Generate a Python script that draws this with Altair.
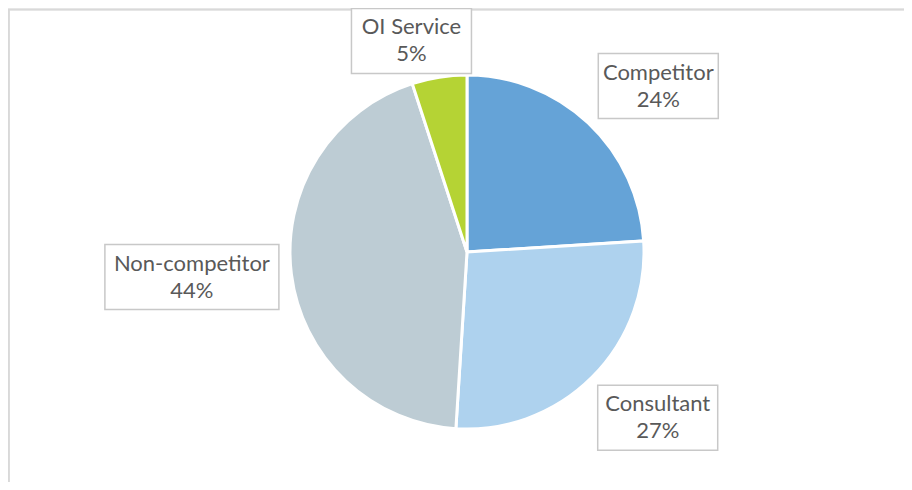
import altair as alt
import pandas as pd

# ---- data ----
categories = ["Competitor", "Consultant", "Non-competitor", "OI Service"]
shares = [24, 27, 44, 5]
colors = ["#65A3D7", "#AED2EE", "#BDCCD4", "#B5D334"]

# ---- layout / style ----
W, H = 896, 474
CX, CY = 459, 244
R = 177
LABEL_R = 240
nudge_x = {"Competitor": 27, "Consultant": 21, "Non-competitor": -37, "OI Service": -18}
nudge_y = {"Competitor": 9, "Consultant": -4, "Non-competitor": -5, "OI Service": 26}
FONT = "Lato"
FONT_SIZE = 22
LINE_H = 27
TEXT_COLOR = "#595959"
BOX_H = 65


def lookup_expr(d):
    expr = "0"
    for k, v in d.items():
        expr = f"datum.category == '{k}' ? {v} : ({expr})"
    return expr


df = pd.DataFrame({"category": categories, "share": shares, "order": list(range(len(categories)))})

base = alt.Chart(df)

pie = base.mark_arc(outerRadius=R, stroke="white", strokeWidth=3).encode(
    theta=alt.Theta("share:Q", stack=True),
    order=alt.Order("order:Q"),
    color=alt.Color("category:N", scale=alt.Scale(domain=categories, range=colors), legend=None),
    x=alt.value(CX),
    y=alt.value(CY),
)

labels_base = base.transform_joinaggregate(
    total="sum(share)"
).transform_window(
    cum="sum(share)", sort=[alt.SortField("order")], frame=[None, 0]
).transform_calculate(
    mid="(datum.cum - datum.share / 2) / datum.total * 2 * PI"
).transform_calculate(
    lx=f"{CX} + {LABEL_R} * sin(datum.mid) + ({lookup_expr(nudge_x)})",
    ly=f"{CY} - {LABEL_R} * cos(datum.mid) + ({lookup_expr(nudge_y)})",
    bw="length(datum.category) * 13.5 - 15",
    label="datum.category + '\\n' + datum.share + '%'",
).transform_calculate(
    x1="datum.lx - datum.bw / 2",
    x2="datum.lx + datum.bw / 2",
    y1=f"datum.ly - {BOX_H} / 2",
    y2=f"datum.ly + {BOX_H} / 2",
)

boxes = labels_base.mark_rect(fill="white", stroke="#c8c8c8", strokeWidth=1.5).encode(
    x=alt.X("x1:Q", scale=None, axis=None),
    x2="x2:Q",
    y=alt.Y("y1:Q", scale=None, axis=None),
    y2="y2:Q",
)

texts = labels_base.mark_text(
    font=FONT, fontSize=FONT_SIZE, color=TEXT_COLOR, lineBreak="\n",
    lineHeight=LINE_H, align="center", baseline="middle", dy=-LINE_H / 2,
).encode(
    x=alt.X("lx:Q", scale=None, axis=None),
    y=alt.Y("ly:Q", scale=None, axis=None),
    text="label:N",
)

frame_top = base.mark_rule(color="#d9d9d9", strokeWidth=1.5).encode(
    x=alt.value(0), x2=alt.value(W), y=alt.value(1.5)
)
frame_left = base.mark_rule(color="#d9d9d9", strokeWidth=2).encode(
    x=alt.value(0.5), y=alt.value(1), y2=alt.value(H)
)

chart = alt.layer(frame_top, frame_left, pie, boxes, texts).properties(
    width=W, height=H, padding=0, autosize=alt.AutoSizeParams(type="none")
).configure_view(stroke=None)

chart.save("out.html", embed_options={"renderer": "svg", "actions": False})
